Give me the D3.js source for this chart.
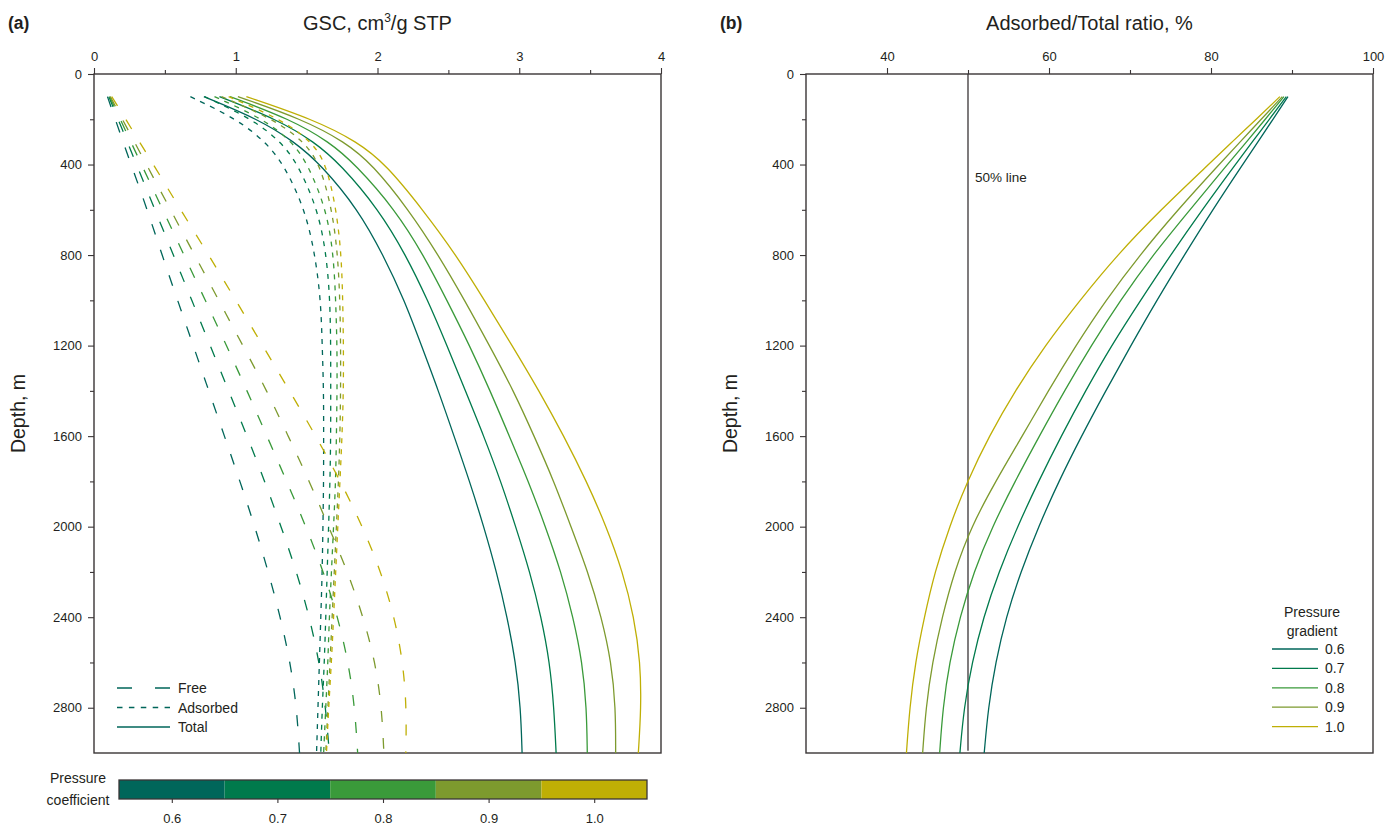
<!DOCTYPE html>
<html>
<head>
<meta charset="utf-8">
<script src="https://cdn.jsdelivr.net/npm/d3@7"></script>
<style>
  html, body { margin: 0; padding: 0; background: #fff; }
  svg { display: block; font-family: "Liberation Sans", Arial, sans-serif; }
  .tick text { font-size: 13px; fill: #231f20; }
  .tick line { stroke: #3a3536; stroke-width: 1.1; }
</style>
</head>
<body>
<script>
// ---- data -----------------------------------------------------------------
const depths = [100, 200, 300, 400, 600, 800, 1000, 1200, 1400, 1600, 1800, 2000, 2200, 2400, 2600, 2800, 3000];
const coefficients = [0.6, 0.7, 0.8, 0.9, 1.0];
const coefLabels = ["0.6", "0.7", "0.8", "0.9", "1.0"];
const colors = ["#00665a", "#007a4c", "#3a9a3a", "#7d9a2e", "#bfaf05"];

// free gas content, cm3/g
const free06 = [0.095, 0.15, 0.205, 0.262, 0.376, 0.48, 0.59, 0.70, 0.81, 0.92, 1.03, 1.135, 1.23, 1.315, 1.385, 1.43, 1.45];
const free07 = [0.105, 0.17, 0.235, 0.30, 0.43, 0.56, 0.69, 0.82, 0.95, 1.08, 1.205, 1.32, 1.43, 1.52, 1.59, 1.635, 1.66];
const free08 = [0.11, 0.185, 0.26, 0.335, 0.485, 0.635, 0.785, 0.935, 1.08, 1.22, 1.36, 1.495, 1.62, 1.72, 1.795, 1.84, 1.86];
const free09 = [0.115, 0.20, 0.285, 0.37, 0.54, 0.71, 0.88, 1.05, 1.22, 1.37, 1.52, 1.655, 1.79, 1.90, 1.985, 2.03, 2.045];
const free10 = [0.125, 0.225, 0.32, 0.42, 0.61, 0.81, 1.00, 1.19, 1.38, 1.565, 1.74, 1.895, 2.025, 2.12, 2.18, 2.205, 2.20];

// adsorbed gas content, cm3/g
const ads06 = [0.68, 1.01, 1.21, 1.34, 1.49, 1.56, 1.60, 1.61, 1.62, 1.62, 1.62, 1.615, 1.61, 1.60, 1.59, 1.58, 1.57];
const ads07 = [0.78, 1.12, 1.32, 1.44, 1.58, 1.64, 1.665, 1.67, 1.67, 1.67, 1.665, 1.655, 1.645, 1.635, 1.625, 1.61, 1.60];
const ads08 = [0.85, 1.20, 1.40, 1.51, 1.64, 1.69, 1.705, 1.715, 1.715, 1.71, 1.705, 1.69, 1.675, 1.66, 1.65, 1.635, 1.62];
const ads09 = [0.90, 1.27, 1.485, 1.595, 1.68, 1.72, 1.735, 1.74, 1.74, 1.735, 1.725, 1.71, 1.695, 1.68, 1.665, 1.65, 1.635];
const ads10 = [0.95, 1.32, 1.54, 1.64, 1.71, 1.745, 1.755, 1.76, 1.76, 1.75, 1.735, 1.72, 1.705, 1.69, 1.675, 1.655, 1.64];

// total gas content, cm3/g
const total06 = [0.775, 1.16, 1.415, 1.60, 1.865, 2.04, 2.19, 2.31, 2.43, 2.54, 2.65, 2.75, 2.84, 2.915, 2.975, 3.01, 3.02];
const total07 = [0.885, 1.29, 1.555, 1.74, 2.01, 2.20, 2.355, 2.49, 2.62, 2.75, 2.87, 2.975, 3.075, 3.155, 3.215, 3.245, 3.26];
const total08 = [0.96, 1.385, 1.66, 1.845, 2.125, 2.325, 2.49, 2.65, 2.795, 2.93, 3.065, 3.185, 3.295, 3.38, 3.445, 3.475, 3.48];
const total09 = [1.015, 1.47, 1.77, 1.965, 2.22, 2.43, 2.615, 2.79, 2.96, 3.105, 3.245, 3.365, 3.485, 3.58, 3.65, 3.68, 3.68];
const total10 = [1.075, 1.545, 1.86, 2.06, 2.32, 2.555, 2.755, 2.95, 3.14, 3.315, 3.475, 3.615, 3.73, 3.81, 3.855, 3.86, 3.84];

// adsorbed / total ratio, %
const ratio06 = [89.5, 87.65, 85.8, 83.9, 80.2, 76.7, 73.3, 70.1, 67.0, 64.0, 61.2, 58.7, 56.5, 54.7, 53.4, 52.5, 52.0];
const ratio07 = [89.3, 87.2, 85.1, 83.0, 78.9, 75.0, 71.3, 67.7, 64.5, 61.5, 58.7, 56.1, 53.8, 51.9, 50.5, 49.5, 49.0];
const ratio08 = [89.0, 86.7, 84.4, 82.0, 77.4, 72.8, 68.8, 65.2, 61.9, 58.8, 55.8, 53.0, 50.7, 49.0, 47.7, 46.9, 46.5];
const ratio09 = [88.8, 86.2, 83.6, 81.0, 75.9, 71.2, 67.0, 63.3, 59.9, 56.7, 53.4, 50.4, 48.3, 46.8, 45.6, 44.8, 44.4];
const ratio10 = [88.5, 85.6, 82.6, 79.7, 73.8, 68.4, 63.8, 59.5, 55.8, 52.6, 49.9, 47.7, 45.9, 44.6, 43.5, 42.8, 42.4];

// axis ticks
const gscTicks = [0, 1, 2, 3, 4];
const gscMinor = [0.5, 1.5, 2.5, 3.5];
const ratioTicks = [40, 60, 80, 100];
const ratioMinor = [50, 70, 90];
const depthTicks = [0, 400, 800, 1200, 1600, 2000, 2400, 2800];
const depthMinor = [200, 600, 1000, 1400, 1800, 2200, 2600];
const halfLine = 50;

const freeSeries = [free06, free07, free08, free09, free10];
const adsSeries = [ads06, ads07, ads08, ads09, ads10];
const totalSeries = [total06, total07, total08, total09, total10];
const ratioSeries = [ratio06, ratio07, ratio08, ratio09, ratio10];

// ---- layout ---------------------------------------------------------------
const W = 1387, H = 826;
const svg = d3.select("body").append("svg").attr("width", W).attr("height", H);

const yTop = 74, yBottom = 753;
const y = d3.scaleLinear().domain([0, 3000]).range([yTop, yBottom]);
const xA = d3.scaleLinear().domain([0, 4]).range([94, 661]);
const xB = d3.scaleLinear().domain([30, 100]).range([806, 1373]);

const ink = "#231f20";
const frameColor = "#3a3536";

function drawAxes(xs, majors, minors) {
  const g = svg.append("g");
  g.append("g").attr("transform", `translate(0,${yTop})`)
    .call(d3.axisTop(xs).tickValues(majors).tickSize(6).tickPadding(7).tickFormat(d3.format("d")))
    .call(a => a.select(".domain").remove());
  g.append("g").attr("transform", `translate(0,${yTop})`)
    .call(d3.axisTop(xs).tickValues(minors).tickSize(4).tickFormat(""))
    .call(a => a.select(".domain").remove());
  const x0 = xs.range()[0];
  g.append("g").attr("transform", `translate(${x0},0)`)
    .call(d3.axisLeft(y).tickValues(depthTicks).tickSize(6).tickPadding(6).tickFormat(d3.format("d")))
    .call(a => a.select(".domain").remove());
  g.append("g").attr("transform", `translate(${x0},0)`)
    .call(d3.axisLeft(y).tickValues(depthMinor).tickSize(4).tickFormat(""))
    .call(a => a.select(".domain").remove());
  g.append("rect")
    .attr("x", xs.range()[0]).attr("y", yTop)
    .attr("width", xs.range()[1] - xs.range()[0]).attr("height", yBottom - yTop)
    .attr("fill", "none").attr("stroke", frameColor).attr("stroke-width", 1.4);
  return g;
}

function depthTitle(x) {
  svg.append("text")
    .attr("transform", `translate(${x},${(yTop + yBottom) / 2}) rotate(-90)`)
    .attr("text-anchor", "middle").attr("font-size", 19.5).attr("fill", ink)
    .text("Depth, m");
}

// ---- panel (a): gas content -----------------------------------------------
drawAxes(xA, gscTicks, gscMinor);

svg.append("text").attr("x", 8).attr("y", 29)
  .attr("font-size", 17.5).attr("font-weight", "bold").attr("fill", ink).text("(a)");
const titleA = svg.append("text").attr("x", xA(2)).attr("y", 30)
  .attr("text-anchor", "middle").attr("font-size", 20).attr("fill", ink);
titleA.append("tspan").text("GSC, cm");
titleA.append("tspan").attr("font-size", 12).attr("dy", -8).text("3");
titleA.append("tspan").attr("dy", 8).text("/g STP");
depthTitle(25);

// smooth B-spline through the sampled depths
const pair = arr => depths.map((d, i) => [d, arr[i]]);
const lineA = d3.line().x(d => xA(d[1])).y(d => y(d[0])).curve(d3.curveBasis);

const plotA = svg.append("g");
coefficients.forEach((c, i) => {
  plotA.append("path").attr("d", lineA(pair(freeSeries[i])))
    .attr("fill", "none").attr("stroke", colors[i]).attr("stroke-width", 1.3)
    .attr("stroke-dasharray", "11,16");
  plotA.append("path").attr("d", lineA(pair(adsSeries[i])))
    .attr("fill", "none").attr("stroke", colors[i]).attr("stroke-width", 1.3)
    .attr("stroke-dasharray", "5,6");
  plotA.append("path").attr("d", lineA(pair(totalSeries[i])))
    .attr("fill", "none").attr("stroke", colors[i]).attr("stroke-width", 1.3);
});

// line-style legend
const styleLegend = [
  { label: "Free", dash: "15,23" },
  { label: "Adsorbed", dash: "5.5,6.4" },
  { label: "Total", dash: null }
];
const lg = svg.append("g").attr("transform", "translate(117,688)");
styleLegend.forEach((s, i) => {
  const row = lg.append("g").attr("transform", `translate(0,${i * 19.5})`);
  row.append("line").attr("x1", 0).attr("x2", 53).attr("y1", 0).attr("y2", 0)
    .attr("stroke", colors[0]).attr("stroke-width", 1.3)
    .attr("stroke-dasharray", s.dash);
  row.append("text").attr("x", 61).attr("y", 5).attr("font-size", 14).attr("fill", ink).text(s.label);
});

// colour bar
const xC = d3.scaleLinear().domain([0.55, 1.05]).range([119, 647]);
const cb = svg.append("g");
coefficients.forEach((c, i) => {
  cb.append("rect").attr("x", xC(c - 0.05)).attr("y", 780)
    .attr("width", xC(c + 0.05) - xC(c - 0.05)).attr("height", 19)
    .attr("fill", colors[i]);
});
cb.append("rect").attr("x", xC(0.55)).attr("y", 780)
  .attr("width", xC(1.05) - xC(0.55)).attr("height", 19)
  .attr("fill", "none").attr("stroke", frameColor).attr("stroke-width", 1.3);
cb.append("g").attr("transform", "translate(0,799)")
  .call(d3.axisBottom(xC).tickValues(coefficients).tickSize(4).tickPadding(11)
    .tickFormat((d, i) => coefLabels[i]))
  .call(a => a.select(".domain").remove());
svg.append("text").attr("x", 78).attr("y", 783).attr("text-anchor", "middle")
  .attr("font-size", 14).attr("fill", ink).text("Pressure");
svg.append("text").attr("x", 78).attr("y", 805).attr("text-anchor", "middle")
  .attr("font-size", 14).attr("fill", ink).text("coefficient");

// ---- panel (b): adsorbed / total ratio --------------------------------------
drawAxes(xB, ratioTicks, ratioMinor);

svg.append("text").attr("x", 720).attr("y", 29)
  .attr("font-size", 17.5).attr("font-weight", "bold").attr("fill", ink).text("(b)");
svg.append("text").attr("x", (xB.range()[0] + xB.range()[1]) / 2).attr("y", 30)
  .attr("text-anchor", "middle").attr("font-size", 20).attr("fill", ink)
  .text("Adsorbed/Total ratio, %");
depthTitle(737);

svg.append("line")
  .attr("x1", xB(halfLine)).attr("x2", xB(halfLine))
  .attr("y1", y(0)).attr("y2", y(2990))
  .attr("stroke", frameColor).attr("stroke-width", 1.3);
svg.append("text").attr("x", xB(halfLine) + 7).attr("y", 182)
  .attr("font-size", 13.5).attr("fill", ink).text("50% line");

const lineB = d3.line().x(d => xB(d[1])).y(d => y(d[0])).curve(d3.curveBasis);
const plotB = svg.append("g");
coefficients.forEach((c, i) => {
  plotB.append("path").attr("d", lineB(pair(ratioSeries[i])))
    .attr("fill", "none").attr("stroke", colors[i]).attr("stroke-width", 1.3);
});

// pressure gradient legend
const lgB = svg.append("g");
lgB.append("text").attr("x", 1312).attr("y", 617).attr("text-anchor", "middle")
  .attr("font-size", 14).attr("fill", ink).text("Pressure");
lgB.append("text").attr("x", 1312).attr("y", 636).attr("text-anchor", "middle")
  .attr("font-size", 14).attr("fill", ink).text("gradient");
coefficients.forEach((c, i) => {
  const yy = 649 + i * 19.4;
  lgB.append("line").attr("x1", 1272).attr("x2", 1318).attr("y1", yy).attr("y2", yy)
    .attr("stroke", colors[i]).attr("stroke-width", 1.3);
  lgB.append("text").attr("x", 1325).attr("y", yy + 5)
    .attr("font-size", 14).attr("fill", ink).text(coefLabels[i]);
});
</script>
</body>
</html>
